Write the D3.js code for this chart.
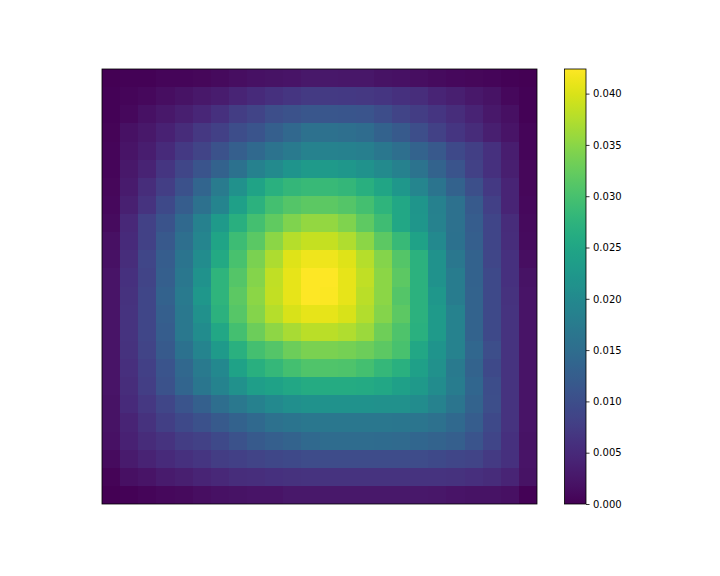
<!DOCTYPE html>
<html>
<head>
<meta charset="utf-8">
<script src="https://cdn.jsdelivr.net/npm/d3@7"></script>
<style>
	body { margin: 0; background: #fff; }
	svg { display: block; }
	text { font-family: "DejaVu Sans", sans-serif; }
</style>
</head>
<body>
<script>
// cell values, in units of 1e-4 (row 0 = top)
var gridRows = [
	[0, 2, 3, 5, 6, 8, 11, 15, 19, 20, 23, 27, 27, 26, 25, 21, 19, 15, 13, 9, 7, 5, 3, 0],
	[2, 6, 9, 15, 20, 28, 33, 42, 50, 59, 65, 72, 72, 70, 68, 65, 59, 53, 42, 36, 27, 20, 9, 2],
	[3, 9, 19, 27, 36, 45, 58, 75, 86, 100, 107, 113, 113, 111, 110, 99, 86, 76, 65, 53, 40, 27, 17, 3],
	[4, 19, 27, 39, 52, 69, 81, 98, 110, 127, 142, 156, 156, 153, 149, 131, 118, 100, 82, 65, 52, 36, 23, 5],
	[5, 23, 34, 50, 70, 86, 107, 126, 144, 161, 173, 187, 187, 185, 181, 168, 153, 134, 116, 94, 78, 58, 34, 6],
	[6, 28, 40, 65, 89, 110, 132, 158, 185, 202, 219, 229, 229, 225, 214, 202, 185, 161, 134, 110, 82, 58, 36, 7],
	[7, 31, 53, 77, 105, 136, 174, 212, 246, 269, 280, 286, 286, 280, 267, 250, 225, 193, 163, 131, 102, 70, 42, 8],
	[9, 38, 62, 94, 124, 156, 192, 240, 271, 297, 311, 317, 317, 311, 297, 275, 253, 221, 185, 156, 118, 80, 42, 9],
	[12, 47, 82, 109, 144, 185, 229, 267, 297, 321, 342, 356, 356, 342, 319, 292, 253, 222, 187, 156, 123, 87, 52, 10],
	[17, 50, 82, 116, 153, 193, 247, 291, 315, 350, 377, 387, 387, 374, 350, 317, 285, 245, 200, 158, 127, 87, 53, 12],
	[19, 53, 89, 123, 163, 204, 256, 301, 339, 371, 403, 413, 413, 403, 377, 346, 310, 271, 214, 168, 131, 89, 58, 15],
	[23, 58, 86, 127, 168, 214, 275, 310, 346, 384, 408, 424, 423, 408, 384, 350, 317, 271, 214, 176, 132, 94, 58, 20],
	[23, 61, 89, 131, 173, 225, 275, 317, 350, 385, 408, 423, 422, 408, 380, 350, 310, 271, 225, 176, 134, 94, 61, 23],
	[23, 62, 89, 127, 170, 212, 271, 312, 346, 377, 399, 408, 408, 399, 375, 346, 317, 271, 229, 187, 134, 94, 62, 23],
	[23, 62, 89, 124, 170, 204, 253, 297, 328, 352, 368, 380, 380, 374, 361, 331, 306, 269, 229, 187, 134, 94, 62, 23],
	[23, 61, 86, 118, 158, 192, 229, 269, 297, 311, 328, 339, 339, 335, 328, 317, 300, 253, 220, 187, 140, 100, 62, 23],
	[23, 57, 81, 110, 142, 173, 198, 245, 267, 282, 297, 308, 308, 306, 297, 282, 269, 240, 212, 173, 134, 94, 62, 23],
	[23, 54, 77, 107, 136, 166, 190, 212, 236, 245, 253, 260, 260, 259, 258, 253, 240, 227, 205, 176, 139, 99, 62, 23],
	[21, 50, 69, 89, 110, 129, 151, 170, 185, 200, 210, 214, 214, 214, 214, 213, 212, 205, 187, 165, 134, 100, 62, 23],
	[21, 42, 61, 78, 94, 105, 118, 131, 144, 156, 163, 168, 168, 168, 168, 168, 167, 165, 157, 144, 123, 94, 62, 23],
	[19, 39, 52, 62, 75, 82, 94, 107, 118, 127, 134, 144, 148, 148, 148, 147, 145, 139, 134, 127, 110, 87, 58, 20],
	[13, 31, 40, 50, 58, 65, 75, 80, 86, 91, 94, 97, 97, 97, 97, 97, 97, 97, 94, 89, 85, 72, 59, 23],
	[4, 17, 23, 31, 36, 42, 47, 53, 55, 58, 61, 62, 62, 62, 62, 62, 62, 62, 62, 61, 57, 52, 42, 21],
	[0, 2, 6, 9, 11, 15, 19, 20, 23, 23, 27, 27, 27, 27, 27, 27, 27, 27, 25, 23, 21, 20, 17, 2]
];
var valueUnit = 1e-4;
var colorbarTicks = [0, 0.005, 0.010, 0.015, 0.020, 0.025, 0.030, 0.035, 0.040];

var width = 720,
	height = 576;

var plot = { left: 102, top: 69, right: 537, bottom: 504 };
var bar = { left: 564.5, right: 586 };

var cells = [];
gridRows.forEach(function(row, r) {
	row.forEach(function(v, c) {
		cells.push({ row: r, col: c, value: v * valueUnit });
	});
});

var vmin = d3.min(cells, function(d) { return d.value; }),
	vmax = d3.max(cells, function(d) { return d.value; });

var color = d3.scaleSequential(d3.interpolateViridis).domain([vmin, vmax]);

var xScale = d3.scaleBand()
	.domain(d3.range(gridRows[0].length))
	.range([plot.left, plot.right]);
var yScale = d3.scaleBand()
	.domain(d3.range(gridRows.length))
	.range([plot.top, plot.bottom]);

var svg = d3.select("body").append("svg")
	.attr("width", width)
	.attr("height", height);

svg.append("g")
	.selectAll("rect")
	.data(cells)
	.enter().append("rect")
	.attr("x", function(d) { return xScale(d.col); })
	.attr("y", function(d) { return yScale(d.row); })
	.attr("width", xScale.bandwidth() + 0.3)
	.attr("height", yScale.bandwidth() + 0.3)
	.attr("fill", function(d) { return color(d.value); })
	.attr("shape-rendering", "crispEdges");

svg.append("rect")
	.attr("x", plot.left)
	.attr("y", plot.top)
	.attr("width", plot.right - plot.left)
	.attr("height", plot.bottom - plot.top)
	.attr("fill", "none")
	.attr("stroke", "#000")
	.attr("stroke-width", 0.8);

// colorbar
var barScale = d3.scaleLinear()
	.domain([vmin, vmax])
	.range([plot.bottom, plot.top]);

var grad = svg.append("defs").append("linearGradient")
	.attr("id", "viridisGrad")
	.attr("x1", 0).attr("y1", 1)
	.attr("x2", 0).attr("y2", 0);
grad.selectAll("stop")
	.data(d3.range(0, 1.0001, 0.02))
	.enter().append("stop")
	.attr("offset", function(d) { return d; })
	.attr("stop-color", function(d) { return d3.interpolateViridis(d); });

svg.append("rect")
	.attr("x", bar.left)
	.attr("y", plot.top)
	.attr("width", bar.right - bar.left)
	.attr("height", plot.bottom - plot.top)
	.attr("fill", "url(#viridisGrad)")
	.attr("stroke", "#000")
	.attr("stroke-width", 0.8);

var barAxis = d3.axisRight(barScale)
	.tickValues(colorbarTicks)
	.tickFormat(d3.format(".3f"))
	.tickSizeInner(3.5)
	.tickSizeOuter(0)
	.tickPadding(3.5);

var axisG = svg.append("g")
	.attr("transform", "translate(" + bar.right + ",0)")
	.call(barAxis);
axisG.select(".domain").remove();
axisG.selectAll(".tick line")
	.attr("stroke", "#000")
	.attr("stroke-width", 0.8);
axisG.selectAll(".tick text")
	.attr("fill", "#000")
	.style("font-family", "'DejaVu Sans', sans-serif")
	.style("font-size", "10px");
</script>
</body>
</html>
